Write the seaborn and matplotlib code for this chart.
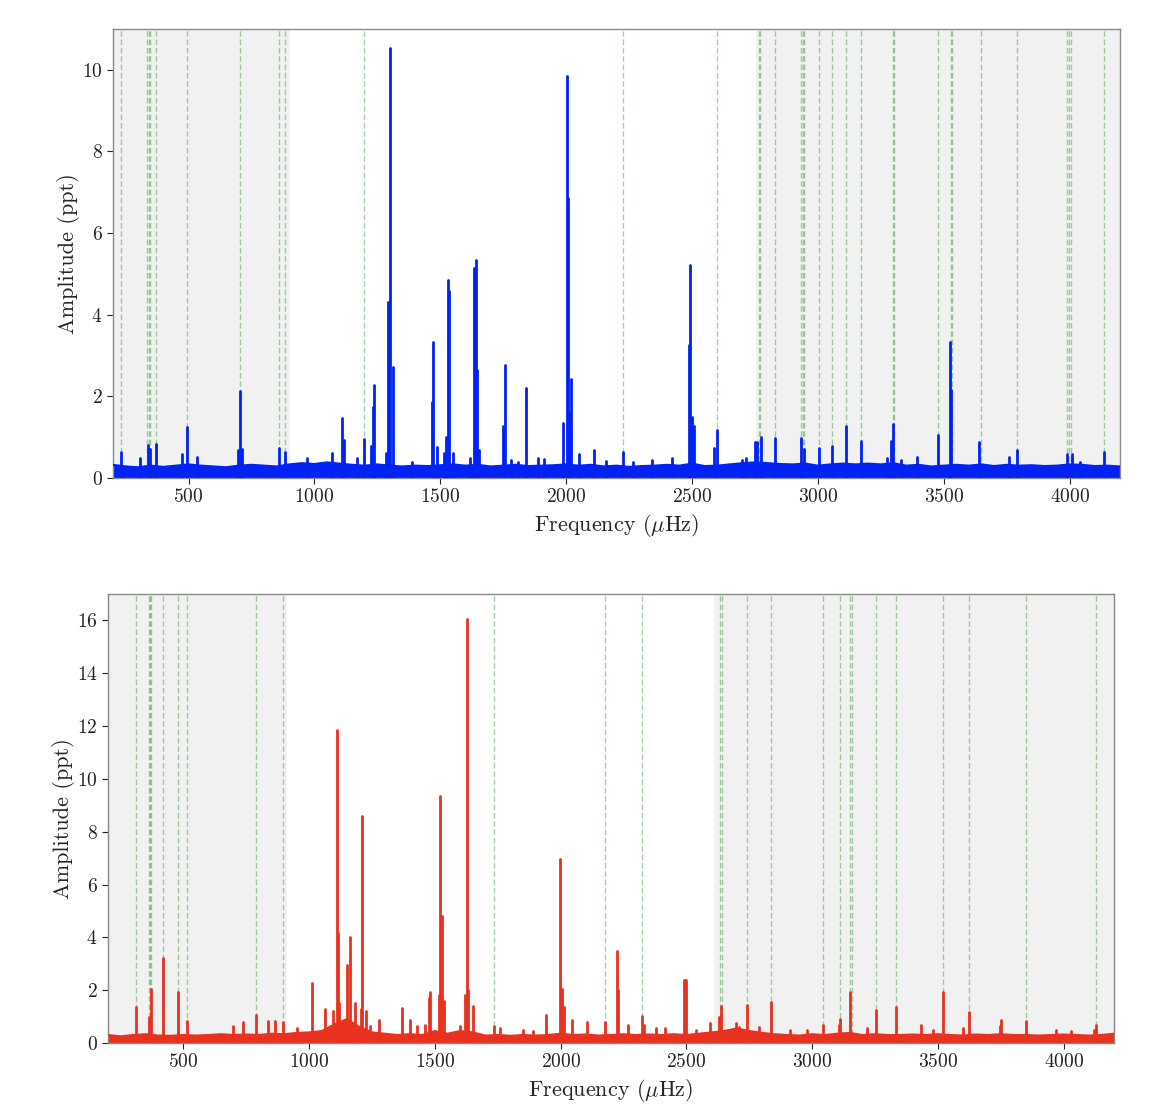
import numpy as np
import pandas as pd
import matplotlib
matplotlib.use("Agg")
import matplotlib.pyplot as plt
import seaborn as sns

# ---------------- data ----------------
base_freq = list(range(200, 4201, 50))

top_base_amp = [0.32, 0.28, 0.26, 0.30, 0.27, 0.30, 0.33, 0.30, 0.28, 0.26,
                0.30, 0.32, 0.30, 0.28, 0.33, 0.36, 0.34, 0.38, 0.35, 0.32,
                0.30, 0.33, 0.30, 0.28, 0.30, 0.29, 0.31, 0.33, 0.30, 0.32,
                0.28, 0.30, 0.32, 0.29, 0.30, 0.31, 0.33, 0.30, 0.32, 0.28,
                0.30, 0.27, 0.29, 0.30, 0.32, 0.30, 0.35, 0.29, 0.30, 0.33,
                0.36, 0.38, 0.36, 0.34, 0.33, 0.35, 0.30, 0.33, 0.35, 0.33,
                0.35, 0.33, 0.36, 0.30, 0.32, 0.28, 0.30, 0.32, 0.30, 0.33,
                0.29, 0.32, 0.30, 0.31, 0.29, 0.30, 0.33, 0.32, 0.29, 0.30, 0.28]

bot_base_amp = [0.30, 0.25, 0.30, 0.33, 0.28, 0.27, 0.30, 0.28, 0.30, 0.33,
                0.30, 0.32, 0.30, 0.35, 0.33, 0.38, 0.40, 0.45, 0.70, 0.90,
                0.60, 0.40, 0.35, 0.30, 0.33, 0.30, 0.45, 0.35, 0.45, 0.40,
                0.28, 0.30, 0.27, 0.30, 0.28, 0.30, 0.35, 0.30, 0.32, 0.28,
                0.30, 0.33, 0.30, 0.32, 0.30, 0.33, 0.30, 0.35, 0.40, 0.45,
                0.55, 0.45, 0.38, 0.33, 0.30, 0.28, 0.33, 0.30, 0.35, 0.38,
                0.30, 0.33, 0.30, 0.30, 0.32, 0.30, 0.33, 0.30, 0.28, 0.32,
                0.30, 0.33, 0.30, 0.30, 0.28, 0.30, 0.32, 0.30, 0.28, 0.30, 0.35]

top_peak_freq = [231, 307, 338, 348, 370, 475, 495, 533, 697, 705, 713, 861, 882,
                 970, 1069, 1109, 1118, 1170, 1198, 1224, 1233, 1235, 1283, 1293,
                 1297, 1301, 1312, 1387, 1468, 1473, 1489, 1513, 1523, 1530, 1535,
                 1551, 1620, 1636, 1643, 1646, 1654, 1751, 1758, 1780, 1809, 1839,
                 1890, 1914, 1987, 2003, 2007, 2012, 2019, 2053, 2109, 2160, 2226,
                 2265, 2342, 2420, 2490, 2493, 2500, 2507, 2586, 2601, 2700, 2716,
                 2752, 2760, 2776, 2828, 2933, 2944, 3003, 3058, 3111, 3170, 3275,
                 3290, 3297, 3330, 3394, 3477, 3524, 3530, 3641, 3759, 3792, 3990,
                 4008, 4040, 4138]
top_peak_amp = [0.64, 0.48, 0.81, 0.70, 0.83, 0.59, 1.24, 0.52, 0.68, 2.12, 0.70, 0.73, 0.64,
                0.50, 0.60, 1.46, 0.93, 0.48, 0.95, 0.78, 1.75, 2.28, 0.60, 4.30,
                2.80, 10.53, 2.73, 0.40, 1.87, 3.34, 0.77, 0.60, 1.01, 4.84, 4.57,
                0.60, 0.48, 5.14, 5.33, 2.65, 0.68, 1.27, 2.77, 0.45, 0.40, 2.21,
                0.48, 0.46, 1.34, 9.85, 6.85, 1.60, 2.42, 0.58, 0.69, 0.42, 0.64,
                0.40, 0.45, 0.48, 3.26, 5.22, 1.50, 1.28, 0.73, 1.18, 0.45, 0.48,
                0.87, 0.87, 1.00, 0.97, 0.97, 0.70, 0.73, 0.78, 1.27, 0.91, 0.50,
                0.90, 1.31, 0.45, 0.52, 1.05, 3.32, 2.16, 0.87, 0.52, 0.69, 0.59,
                0.59, 0.40, 0.63]

bot_peak_freq = [311, 365, 370, 417, 477, 515, 698, 738, 788, 837, 864, 894, 950,
                 1012, 1062, 1095, 1110, 1114, 1120, 1149, 1162, 1182, 1205, 1210,
                 1224, 1240, 1278, 1370, 1400, 1430, 1460, 1475, 1480, 1517, 1521,
                 1529, 1535, 1600, 1620, 1628, 1632, 1650, 1734, 1760, 1850, 1890,
                 1940, 1998, 2006, 2012, 2045, 2105, 2175, 2222, 2226, 2268, 2322,
                 2330, 2380, 2414, 2490, 2495, 2500, 2540, 2593, 2630, 2636, 2696,
                 2710, 2740, 2790, 2838, 2910, 2980, 3045, 3108, 3111, 3150, 3220,
                 3255, 3335, 3431, 3480, 3522, 3600, 3625, 3745, 3752, 3850, 3970,
                 4030, 4120, 4130]
bot_peak_amp = [1.37, 1.00, 2.04, 3.23, 1.92, 0.85, 0.66, 0.78, 1.06, 0.83, 0.83, 0.78, 0.55,
                2.26, 1.27, 1.20, 11.84, 4.15, 1.50, 2.95, 4.02, 1.50, 1.30, 8.60,
                1.20, 0.65, 0.87, 1.34, 0.87, 0.65, 0.70, 1.69, 1.94, 1.80, 9.36,
                4.80, 1.60, 0.65, 1.82, 16.06, 2.00, 1.40, 0.65, 0.55, 0.50, 0.45,
                1.06, 6.98, 2.04, 1.37, 0.87, 0.80, 0.80, 3.48, 2.00, 0.70, 1.03,
                0.70, 0.58, 0.55, 2.38, 2.38, 2.38, 0.50, 0.75, 1.00, 1.41, 0.75,
                0.60, 1.44, 0.60, 1.54, 0.50, 0.50, 0.70, 0.70, 0.91, 1.92, 0.55,
                1.25, 1.37, 0.70, 0.50, 1.92, 0.55, 1.18, 0.65, 0.87, 0.83, 0.50,
                0.45, 0.50, 0.70]

top_mode_freq = [231, 336, 343, 348, 370, 495, 705, 861, 882, 1198, 2227, 2601,
                 2765, 2770, 2828, 2933, 2939, 2944, 3003, 3058, 3111, 3170, 3297,
                 3301, 3478, 3528, 3532, 3646, 3792, 3989, 3996, 4005, 4138]
bot_mode_freq = [311, 363, 367, 371, 417, 477, 515, 788, 894, 1733, 2175, 2322,
                 2634, 2640, 2740, 2838, 3045, 3111, 3150, 3157, 3255, 3335, 3522,
                 3625, 3850, 4130]

top_shade = [(200, 903), (2754, 4200)]
bot_shade = [(200, 910), (2610, 4200)]

x_ticks = [500, 1000, 1500, 2000, 2500, 3000, 3500, 4000]
top_y_ticks = [0, 2, 4, 6, 8, 10]
bot_y_ticks = [0, 2, 4, 6, 8, 10, 12, 14, 16]

# ---------------- style ----------------
sns.set_style("ticks")
plt.rcParams["font.family"] = ["cmr10", "DejaVu Serif"]
plt.rcParams["mathtext.fontset"] = "cm"
plt.rcParams["axes.formatter.use_mathtext"] = True
plt.rcParams["axes.unicode_minus"] = False

fig = plt.figure(figsize=(11.6, 11.11), dpi=100)
ax_top = fig.add_axes([0.0974, 0.5698, 0.8681, 0.4041])
ax_bot = fig.add_axes([0.0931, 0.0612, 0.8672, 0.4041])

panels = [
    (ax_top, top_base_amp, top_peak_freq, top_peak_amp, top_mode_freq, top_shade,
     "#0022f2", (0, 11), top_y_ticks, 1.5),
    (ax_bot, bot_base_amp, bot_peak_freq, bot_peak_amp, bot_mode_freq, bot_shade,
     "#e8321f", (0, 17), bot_y_ticks, 1.0),
]

for ax, base_amp, pf, pa, modes, shades, col, ylim, yt, lpad in panels:
    ax.set_facecolor("white")
    for a, b in shades:
        ax.axvspan(a, b, color="#f1f1f1", zorder=0, lw=0)
    for f in modes:
        ax.axvline(f, color="green", alpha=0.35, lw=1.0, ls=(0, (4, 2)), zorder=1)

    # noise band
    df_base = pd.DataFrame({"freq": base_freq, "amp": base_amp})
    ax.fill_between(df_base["freq"], 0, df_base["amp"], color=col, lw=0, zorder=2)
    sns.lineplot(data=df_base, x="freq", y="amp", ax=ax, color=col, lw=1.6,
                 estimator=None, zorder=3)

    # peaks as spikes
    rows = []
    for i, (f, a) in enumerate(zip(pf, pa)):
        rows.append({"id": i, "freq": f, "amp": 0.0})
        rows.append({"id": i, "freq": f, "amp": a})
    df_pk = pd.DataFrame(rows)
    sns.lineplot(data=df_pk, x="freq", y="amp", units="id", estimator=None,
                 sort=False, ax=ax, color=col, lw=2.0, zorder=3)

    ax.set_xlim(200, 4200)
    ax.set_ylim(*ylim)
    ax.set_xticks(x_ticks)
    ax.set_yticks(yt)
    ax.tick_params(axis="both", labelsize=14, direction="out", length=4,
                   width=0.8, colors="#222222")
    for s in ax.spines.values():
        s.set_color("#8a8a8a")
        s.set_linewidth(1.0)
        s.set_visible(True)
    ax.set_xlabel(r"Frequency ($\mu$Hz)", fontsize=16, labelpad=4)
    ax.set_ylabel("Amplitude (ppt)", fontsize=16, labelpad=lpad)

fig.savefig("out.png", dpi=100, facecolor="white")
